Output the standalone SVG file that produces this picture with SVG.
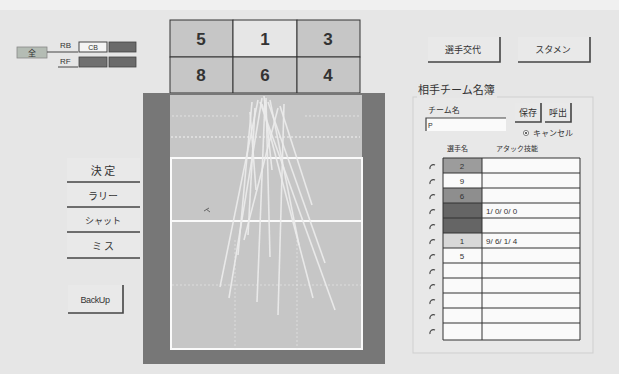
<svg xmlns="http://www.w3.org/2000/svg" width="619" height="374" viewBox="0 0 619 374">
<style>
text{font-family:"Liberation Sans","Noto Sans CJK JP",sans-serif;fill:#333}
.jp{font-family:"Noto Sans CJK JP",sans-serif}
.btn{fill:#e9e9e9;stroke:none}
.sh{stroke:#444;stroke-width:1.6;fill:none}
.num{font-size:17px;font-weight:bold;text-anchor:middle;fill:#333}
.cell{stroke:#333;stroke-width:1}
.traj{stroke:#ececec;stroke-width:1.6;fill:none;opacity:0.9}
.dot{stroke:#f4f4f4;stroke-width:1;stroke-dasharray:2 2;fill:none}
</style>
<rect x="0" y="0" width="619" height="374" fill="#e6e6e6"/>
<rect x="0" y="0" width="619" height="10" fill="#f0f0f0"/>

<g id="all-button">
<rect x="17" y="47" width="30" height="11" fill="#b4bcb4" stroke="#888" stroke-width="0.8"/>
<text x="32" y="56" font-size="8" text-anchor="middle" class="jp">全</text>
<path d="M47 52H78M58 67H78" stroke="#444" stroke-width="1"/>
</g>
<g id="rb-rf">
<text x="60" y="48" font-size="8">RB</text>
<text x="60" y="64" font-size="8">RF</text>
<rect x="79" y="42" width="28" height="10" fill="#f4f4f4" stroke="#444" stroke-width="1"/>
<text x="93" y="50" font-size="7" text-anchor="middle">CB</text>
<rect x="109" y="42" width="27" height="10" fill="#6a6a6a" stroke="#444" stroke-width="0.8"/>
<rect x="79" y="57" width="28" height="10" fill="#707070" stroke="#444" stroke-width="0.8"/>
<rect x="109" y="57" width="27" height="10" fill="#6a6a6a" stroke="#444" stroke-width="0.8"/>
</g>

<g id="position-grid">
<rect x="170" y="20" width="63" height="37" fill="#c6c6c6" class="cell"/>
<rect x="233" y="20" width="64" height="37" fill="#e6e6e6" class="cell"/>
<rect x="297" y="20" width="63" height="37" fill="#c6c6c6" class="cell"/>
<rect x="170" y="57" width="63" height="36" fill="#c6c6c6" class="cell"/>
<rect x="233" y="57" width="64" height="36" fill="#c6c6c6" class="cell"/>
<rect x="297" y="57" width="63" height="36" fill="#c6c6c6" class="cell"/>
<text x="201" y="45" class="num">5</text>
<text x="265" y="45" class="num">1</text>
<text x="328" y="45" class="num">3</text>
<text x="201" y="81" class="num">8</text>
<text x="265" y="81" class="num">6</text>
<text x="328" y="81" class="num">4</text>
</g>

<g id="court">
<rect x="143" y="93" width="242" height="271" fill="#777"/>
<rect x="170" y="95" width="192" height="255" fill="#c6c6c6"/>
<path d="M172 116H240M305 116H360" class="dot" opacity="0.6"/>
<path d="M171 137H360" class="dot"/>
<rect x="171" y="158" width="191" height="191" fill="none" stroke="#fafafa" stroke-width="2"/>
<path d="M171 221H362" stroke="#fafafa" stroke-width="2"/>
<path d="M235 240V350M297 240V350M172 285H362" class="dot" opacity="0.5"/>
<path d="M204 211l5 -3M206 209l4 3" stroke="#666" stroke-width="1"/>
</g>

<g id="trajectories">
<path class="traj" d="M258 100L220 287"/>
<path class="traj" d="M262 98L229 298"/>
<path class="traj" d="M265 100L257 302"/>
<path class="traj" d="M266 98L270 257"/>
<path class="traj" d="M284 104L278 315"/>
<path class="traj" d="M268 102L325 263"/>
<path class="traj" d="M262 104L313 298"/>
<path class="traj" d="M260 102L335 310"/>
<path class="traj" d="M255 108L248 235"/>
<path class="traj" d="M270 100L299 245"/>
<path class="traj" d="M250 112L256 190"/>
<path class="traj" d="M278 108L244 240"/>
<path class="traj" d="M264 96L272 170"/>
<path class="traj" d="M280 106L312 205"/>
<path class="traj" d="M252 102L238 255"/>
</g>

<g id="btn-kettei">
<rect x="67" y="158" width="73" height="24" class="btn"/>
<path d="M67 182H140" class="sh"/>
<text x="103" y="175" font-size="11" text-anchor="middle" class="jp">決 定</text>
</g>
<g id="btn-rally">
<rect x="67" y="183" width="73" height="24" class="btn"/>
<path d="M67 207H140" class="sh"/>
<text x="103" y="200" font-size="10" text-anchor="middle" class="jp">ラリー</text>
</g>
<g id="btn-shut">
<rect x="67" y="208" width="73" height="24" class="btn"/>
<path d="M67 232H140" class="sh"/>
<text x="103" y="224" font-size="9" text-anchor="middle" class="jp">シャット</text>
</g>
<g id="btn-miss">
<rect x="67" y="233" width="73" height="25" class="btn"/>
<path d="M67 258H140" class="sh"/>
<text x="103" y="250" font-size="10" text-anchor="middle" class="jp">ミ ス</text>
</g>

<g id="btn-backup">
<rect x="68" y="285" width="55" height="28" class="btn"/>
<path d="M68 313H123V285" class="sh"/>
<text x="95" y="303" font-size="9" text-anchor="middle" letter-spacing="-0.4">BackUp</text>
</g>

<g id="btn-koutai">
<rect x="428" y="37" width="72" height="25" class="btn"/>
<path d="M428 62H500V37" class="sh"/>
<text x="463" y="53" font-size="9" text-anchor="middle" class="jp">選手交代</text>
</g>
<g id="btn-starting">
<rect x="518" y="37" width="72" height="25" class="btn"/>
<path d="M518 62H590V37" class="sh"/>
<text x="553" y="53" font-size="9" text-anchor="middle" class="jp">スタメン</text>
</g>

<g id="team-roster">
<rect x="413" y="97" width="180" height="256" fill="#e8e8e8" stroke="#cfcfcf" stroke-width="1"/>
<rect x="417" y="82" width="80" height="16" fill="#e6e6e6"/>
<text x="418" y="94" font-size="11" class="jp">相手チーム名簿</text>
<text x="428" y="113" font-size="8" class="jp">チーム名</text>
<rect x="426" y="118" width="80" height="13" fill="#fafafa"/>
<path d="M426 131V118H506" stroke="#444" stroke-width="1.2" fill="none"/>
<text x="428" y="128" font-size="7">P</text>
<g id="btn-save">
<rect x="515" y="103" width="26" height="19" class="btn"/>
<path d="M515 122H541V103" class="sh"/>
<text x="528" y="116" font-size="9" text-anchor="middle" class="jp">保存</text>
</g>
<g id="btn-call">
<rect x="545" y="103" width="26" height="19" class="btn"/>
<path d="M545 122H571V103" class="sh"/>
<text x="558" y="116" font-size="9" text-anchor="middle" class="jp">呼出</text>
</g>
<circle cx="526" cy="133" r="2.6" fill="#fafafa" stroke="#666" stroke-width="0.8"/>
<circle cx="526" cy="133" r="1" fill="#333"/>
<text x="533" y="136" font-size="8" class="jp">キャンセル</text>
<text x="447" y="151" font-size="7" class="jp">選手名</text>
<text x="496" y="151" font-size="7" class="jp">アタック技能</text>
</g>

<g id="roster-table">
<rect x="443" y="158" width="39" height="15" fill="#9c9c9c"/>
<rect x="443" y="173" width="39" height="15" fill="#fafafa"/>
<rect x="443" y="188" width="39" height="15" fill="#8e8e8e"/>
<rect x="443" y="203" width="39" height="15" fill="#656565"/>
<rect x="443" y="218" width="39" height="15" fill="#656565"/>
<rect x="443" y="233" width="39" height="15" fill="#d8d8d8"/>
<rect x="443" y="248" width="39" height="92" fill="#fafafa"/>
<rect x="482" y="158" width="98" height="182" fill="#fafafa"/>
<path d="M443 158H580V340H443ZM482 158V340M443 173H580M443 188H580M443 203H580M443 218H580M443 233H580M443 248H580M443 263H580M443 278H580M443 293H580M443 308H580M443 323H580" stroke="#333" stroke-width="1" fill="none"/>
<g font-size="8" text-anchor="middle">
<text x="462" y="169" fill="#555">2</text>
<text x="462" y="184" fill="#777">9</text>
<text x="462" y="199" fill="#555">6</text>
<text x="462" y="244" fill="#444">1</text>
<text x="462" y="259" fill="#555">5</text>
</g>
<text x="486" y="214" font-size="8" fill="#666">1/ 0/ 0/ 0</text>
<text x="486" y="244" font-size="8" fill="#666">9/ 6/ 1/ 4</text>
<g fill="none" stroke="#444" stroke-width="1.2">
<path d="M430 169a3.5 3.5 0 0 1 5 -4"/>
<path d="M430 184a3.5 3.5 0 0 1 5 -4"/>
<path d="M430 199a3.5 3.5 0 0 1 5 -4"/>
<path d="M430 214a3.5 3.5 0 0 1 5 -4"/>
<path d="M430 229a3.5 3.5 0 0 1 5 -4"/>
<path d="M430 244a3.5 3.5 0 0 1 5 -4"/>
<path d="M430 259a3.5 3.5 0 0 1 5 -4"/>
<path d="M430 274a3.5 3.5 0 0 1 5 -4"/>
<path d="M430 289a3.5 3.5 0 0 1 5 -4"/>
<path d="M430 304a3.5 3.5 0 0 1 5 -4"/>
<path d="M430 319a3.5 3.5 0 0 1 5 -4"/>
<path d="M430 334a3.5 3.5 0 0 1 5 -4"/>
</g>
</g>
</svg>
